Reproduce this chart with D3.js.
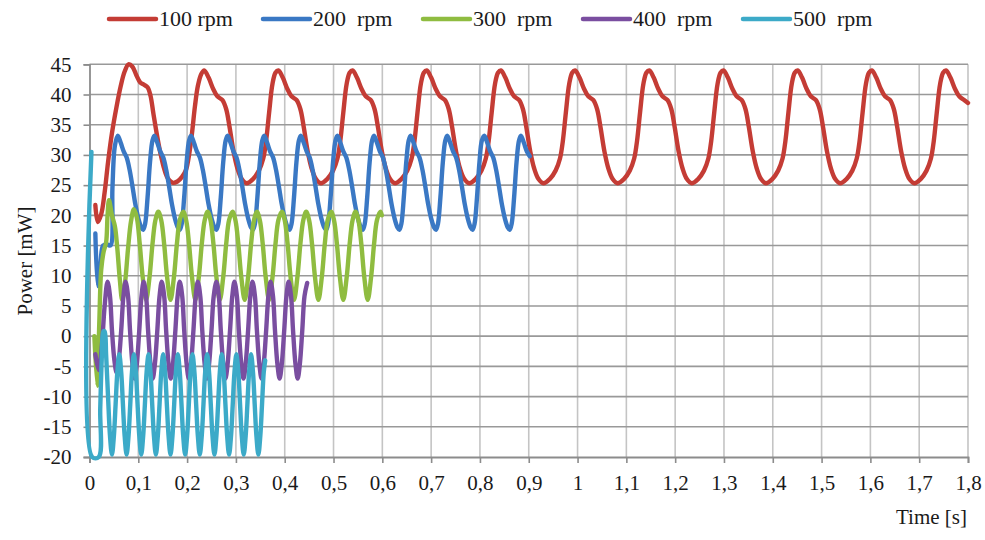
<!DOCTYPE html>
<html><head><meta charset="utf-8">
<script src="https://cdn.jsdelivr.net/npm/d3@7"></script>
<style>
body{margin:0;background:#fff;}
svg{display:block;font-family:"Liberation Serif","Times New Roman",serif;}
</style>
</head><body><svg id="chart" width="985" height="540"></svg>
<script>
// ---------------- DATA ----------------
const seriesNames = ["100 rpm", "200  rpm", "300  rpm", "400  rpm", "500  rpm"];
const seriesColors = ["#c43c35", "#3a78c4", "#8fbc40", "#7a4ea0", "#3caac8"];
const xTickValues = [0,0.1,0.2,0.3,0.4,0.5,0.6,0.7,0.8,0.9,1,1.1,1.2,1.3,1.4,1.5,1.6,1.7,1.8];
const xTickLabels = ["0","0,1","0,2","0,3","0,4","0,5","0,6","0,7","0,8","0,9","1","1,1","1,2","1,3","1,4","1,5","1,6","1,7","1,8"];
const yTickValues = [-20,-15,-10,-5,0,5,10,15,20,25,30,35,40,45];
const yTickLabels = ["-20","-15","-10","-5","0","5","10","15","20","25","30","35","40","45"];
const xTitle = "Time [s]";
const yTitle = "Power [mW]";

// [time s, power mW]
const power100 = [
[0.012,21.7],[0.017,18.9],[0.024,20.2],[0.031,23.8],[0.038,28.8],[0.046,33.6],[0.055,37.8],[0.064,41.4],[0.072,43.8],[0.080,45.0],[0.088,44.6],[0.096,43.2],[0.104,42.0],[0.112,41.6],[0.119,41.2],[0.125,39.8],[0.131,36.8],[0.138,33.4],[0.145,30.4],[0.152,28.0],[0.160,26.2],[0.170,25.4],[0.180,25.6],[0.190,26.4],[0.198,27.6],[0.204,30.0],[0.210,33.6],[0.216,38.0],[0.222,41.4],[0.229,43.4],
[0.235,44.0],[0.244,42.8],[0.253,41.0],[0.262,39.7],[0.272,39.1],[0.280,37.6],[0.287,34.6],[0.295,30.6],[0.303,27.8],[0.312,26.0],[0.322,25.3],[0.335,26.0],[0.347,27.4],[0.356,29.4],[0.362,32.4],[0.368,37.0],[0.375,41.8],[0.381,43.6],
[0.387,44.0],[0.396,42.8],[0.405,41.0],[0.414,39.7],[0.424,39.1],[0.432,37.6],[0.439,34.6],[0.447,30.6],[0.455,27.8],[0.464,26.0],[0.474,25.3],[0.487,26.0],[0.499,27.4],[0.508,29.4],[0.514,32.4],[0.520,37.0],[0.527,41.8],[0.533,43.6],
[0.539,44.0],[0.548,42.8],[0.557,41.0],[0.566,39.7],[0.576,39.1],[0.584,37.6],[0.591,34.6],[0.599,30.6],[0.607,27.8],[0.616,26.0],[0.626,25.3],[0.639,26.0],[0.651,27.4],[0.660,29.4],[0.666,32.4],[0.672,37.0],[0.679,41.8],[0.685,43.6],
[0.691,44.0],[0.700,42.8],[0.709,41.0],[0.718,39.7],[0.728,39.1],[0.736,37.6],[0.743,34.6],[0.751,30.6],[0.759,27.8],[0.768,26.0],[0.778,25.3],[0.791,26.0],[0.803,27.4],[0.812,29.4],[0.818,32.4],[0.824,37.0],[0.831,41.8],[0.837,43.6],
[0.843,44.0],[0.852,42.8],[0.861,41.0],[0.870,39.7],[0.880,39.1],[0.888,37.6],[0.895,34.6],[0.903,30.6],[0.911,27.8],[0.920,26.0],[0.930,25.3],[0.943,26.0],[0.955,27.4],[0.964,29.4],[0.970,32.4],[0.976,37.0],[0.983,41.8],[0.989,43.6],
[0.995,44.0],[1.004,42.8],[1.013,41.0],[1.022,39.7],[1.032,39.1],[1.040,37.6],[1.047,34.6],[1.055,30.6],[1.063,27.8],[1.072,26.0],[1.082,25.3],[1.095,26.0],[1.107,27.4],[1.116,29.4],[1.122,32.4],[1.128,37.0],[1.135,41.8],[1.141,43.6],
[1.147,44.0],[1.156,42.8],[1.165,41.0],[1.174,39.7],[1.184,39.1],[1.192,37.6],[1.199,34.6],[1.207,30.6],[1.215,27.8],[1.224,26.0],[1.234,25.3],[1.247,26.0],[1.259,27.4],[1.268,29.4],[1.274,32.4],[1.280,37.0],[1.287,41.8],[1.293,43.6],
[1.299,44.0],[1.308,42.8],[1.317,41.0],[1.326,39.7],[1.336,39.1],[1.344,37.6],[1.351,34.6],[1.359,30.6],[1.367,27.8],[1.376,26.0],[1.386,25.3],[1.399,26.0],[1.411,27.4],[1.420,29.4],[1.426,32.4],[1.432,37.0],[1.439,41.8],[1.445,43.6],
[1.451,44.0],[1.460,42.8],[1.469,41.0],[1.478,39.7],[1.488,39.1],[1.496,37.6],[1.503,34.6],[1.511,30.6],[1.519,27.8],[1.528,26.0],[1.538,25.3],[1.551,26.0],[1.563,27.4],[1.572,29.4],[1.578,32.4],[1.584,37.0],[1.591,41.8],[1.597,43.6],
[1.603,44.0],[1.612,42.8],[1.621,41.0],[1.630,39.7],[1.640,39.1],[1.648,37.6],[1.655,34.6],[1.663,30.6],[1.671,27.8],[1.680,26.0],[1.690,25.3],[1.703,26.0],[1.715,27.4],[1.724,29.4],[1.730,32.4],[1.736,37.0],[1.743,41.8],[1.749,43.6],
[1.755,44.0],[1.764,42.8],[1.773,41.0],[1.782,39.7],[1.792,39.1],[1.800,38.6]
];

const power200 = [
[0.012,17.0],[0.017,8.3],[0.022,11.5],[0.028,15.0],[0.036,15.2],[0.043,15.0],[0.047,24.5],[0.052,31.5],
[0.058,33.2],[0.064,32.0],[0.070,30.6],[0.076,29.6],[0.082,27.6],[0.088,24.8],[0.094,21.8],[0.100,19.5],[0.106,18.0],[0.110,17.6],[0.114,18.6],[0.119,23.0],[0.124,28.8],[0.129,32.4],
[0.133,33.2],[0.139,32.0],[0.145,30.6],[0.151,29.6],[0.157,27.6],[0.163,24.8],[0.169,21.8],[0.175,19.5],[0.181,18.0],[0.185,17.6],[0.189,18.6],[0.194,23.0],[0.199,28.8],[0.204,32.4],
[0.208,33.2],[0.214,32.0],[0.220,30.6],[0.226,29.6],[0.232,27.6],[0.238,24.8],[0.244,21.8],[0.250,19.5],[0.256,18.0],[0.260,17.6],[0.264,18.6],[0.269,23.0],[0.274,28.8],[0.279,32.4],
[0.283,33.2],[0.289,32.0],[0.295,30.6],[0.301,29.6],[0.307,27.6],[0.313,24.8],[0.319,21.8],[0.325,19.5],[0.331,18.0],[0.335,17.6],[0.339,18.6],[0.344,23.0],[0.349,28.8],[0.354,32.4],
[0.358,33.2],[0.364,32.0],[0.370,30.6],[0.376,29.6],[0.382,27.6],[0.388,24.8],[0.394,21.8],[0.400,19.5],[0.406,18.0],[0.410,17.6],[0.414,18.6],[0.419,23.0],[0.424,28.8],[0.429,32.4],
[0.433,33.2],[0.439,32.0],[0.445,30.6],[0.451,29.6],[0.457,27.6],[0.463,24.8],[0.469,21.8],[0.475,19.5],[0.481,18.0],[0.485,17.6],[0.489,18.6],[0.494,23.0],[0.499,28.8],[0.504,32.4],
[0.508,33.2],[0.514,32.0],[0.520,30.6],[0.526,29.6],[0.532,27.6],[0.538,24.8],[0.544,21.8],[0.550,19.5],[0.556,18.0],[0.560,17.6],[0.564,18.6],[0.569,23.0],[0.574,28.8],[0.579,32.4],
[0.583,33.2],[0.589,32.0],[0.595,30.6],[0.601,29.6],[0.607,27.6],[0.613,24.8],[0.619,21.8],[0.625,19.5],[0.631,18.0],[0.635,17.6],[0.639,18.6],[0.644,23.0],[0.649,28.8],[0.654,32.4],
[0.658,33.2],[0.664,32.0],[0.670,30.6],[0.676,29.6],[0.682,27.6],[0.688,24.8],[0.694,21.8],[0.700,19.5],[0.706,18.0],[0.710,17.6],[0.714,18.6],[0.719,23.0],[0.724,28.8],[0.729,32.4],
[0.733,33.2],[0.739,32.0],[0.745,30.6],[0.751,29.6],[0.757,27.6],[0.763,24.8],[0.769,21.8],[0.775,19.5],[0.781,18.0],[0.785,17.6],[0.789,18.6],[0.794,23.0],[0.799,28.8],[0.804,32.4],
[0.809,33.2],[0.815,32.0],[0.821,30.6],[0.827,29.6],[0.833,27.6],[0.839,24.8],[0.845,21.8],[0.851,19.5],[0.857,18.0],[0.861,17.6],[0.865,18.6],[0.870,23.0],[0.875,28.8],[0.880,32.4],
[0.884,33.2],[0.890,32.0],[0.896,30.6],[0.902,29.8]
];

const power300 = [
[0.010,0.0],[0.016,-8.2],[0.020,2.0],[0.024,11.0],[0.029,14.0],[0.034,15.5],[0.037,20.0],
[0.040,22.5],[0.046,20.0],[0.052,18.2],[0.057,14.5],[0.062,9.5],[0.067,6.0],[0.073,9.0],[0.079,14.5],[0.085,19.0],
[0.091,21.0],[0.097,19.6],[0.103,15.2],[0.109,9.8],[0.116,6.0],[0.123,9.8],[0.129,15.2],[0.135,19.2],
[0.141,20.6],[0.147,19.2],[0.153,15.2],[0.159,9.8],[0.166,6.0],[0.173,9.8],[0.179,15.2],[0.185,19.2],
[0.192,20.6],[0.198,19.2],[0.204,15.2],[0.210,9.8],[0.217,6.0],[0.224,9.8],[0.230,15.2],[0.236,19.2],
[0.242,20.6],[0.248,19.2],[0.254,15.2],[0.260,9.8],[0.267,6.0],[0.274,9.8],[0.280,15.2],[0.286,19.2],
[0.293,20.6],[0.299,19.2],[0.305,15.2],[0.311,9.8],[0.318,6.0],[0.325,9.8],[0.331,15.2],[0.337,19.2],
[0.343,20.6],[0.349,19.2],[0.355,15.2],[0.361,9.8],[0.368,6.0],[0.375,9.8],[0.381,15.2],[0.387,19.2],
[0.394,20.6],[0.400,19.2],[0.406,15.2],[0.412,9.8],[0.419,6.0],[0.426,9.8],[0.432,15.2],[0.438,19.2],
[0.444,20.6],[0.450,19.2],[0.456,15.2],[0.462,9.8],[0.469,6.0],[0.476,9.8],[0.482,15.2],[0.488,19.2],
[0.495,20.6],[0.501,19.2],[0.507,15.2],[0.513,9.8],[0.520,6.0],[0.527,9.8],[0.533,15.2],[0.539,19.2],
[0.545,20.6],[0.551,19.2],[0.557,15.2],[0.563,9.8],[0.570,6.0],[0.577,9.8],[0.583,15.2],[0.589,19.2],
[0.596,20.6],[0.599,20.0]
];

const power400 = [
[0.012,-3.0],[0.019,-5.6],[0.025,-2.0],[0.031,5.0],
[0.037,9.0],[0.042,6.6],[0.046,1.0],[0.051,-4.0],[0.0555,-6.0],[0.060,-4.0],[0.065,1.0],[0.0695,6.6],
[0.074,9.0],[0.079,6.6],[0.083,1.0],[0.088,-4.6],[0.0925,-7.0],[0.097,-4.6],[0.102,1.0],[0.1065,6.6],
[0.111,9.0],[0.116,6.6],[0.120,1.0],[0.125,-4.6],[0.1295,-7.0],[0.134,-4.6],[0.139,1.0],[0.1435,6.6],
[0.148,9.0],[0.153,6.6],[0.157,1.0],[0.162,-4.6],[0.1665,-7.0],[0.171,-4.6],[0.176,1.0],[0.1805,6.6],
[0.185,9.0],[0.190,6.6],[0.194,1.0],[0.199,-4.6],[0.2035,-7.0],[0.208,-4.6],[0.213,1.0],[0.2175,6.6],
[0.222,9.0],[0.227,6.6],[0.231,1.0],[0.236,-4.6],[0.2405,-7.0],[0.245,-4.6],[0.250,1.0],[0.2545,6.6],
[0.260,9.0],[0.265,6.6],[0.269,1.0],[0.274,-4.6],[0.2785,-7.0],[0.283,-4.6],[0.288,1.0],[0.2925,6.6],
[0.297,9.0],[0.302,6.6],[0.306,1.0],[0.311,-4.6],[0.3155,-7.0],[0.320,-4.6],[0.325,1.0],[0.3295,6.6],
[0.334,9.0],[0.339,6.6],[0.343,1.0],[0.348,-4.6],[0.3525,-7.0],[0.357,-4.6],[0.362,1.0],[0.3665,6.6],
[0.371,9.0],[0.376,6.6],[0.380,1.0],[0.385,-4.6],[0.3895,-7.0],[0.394,-4.6],[0.399,1.0],[0.4035,6.6],
[0.408,9.0],[0.413,6.6],[0.417,1.0],[0.422,-4.6],[0.4265,-7.0],[0.431,-4.6],[0.436,1.0],[0.4405,6.6],
[0.446,8.8]
];

const power500 = [
[0.004,30.5],[0.0055,-20.0],[0.019,-20.0],[0.022,-12.0],[0.025,-4.0],[0.0285,0.8],[0.031,0.8],[0.034,-3.0],[0.038,-10.0],[0.042,-16.5],
[0.046,-19.6],[0.050,-16.5],[0.0535,-11.3],[0.057,-6.0],[0.061,-3.0],[0.065,-6.0],[0.0685,-11.3],[0.072,-16.5],
[0.076,-19.6],[0.080,-16.5],[0.0835,-11.3],[0.087,-6.0],[0.091,-3.0],[0.095,-6.0],[0.0985,-11.3],[0.102,-16.5],
[0.106,-19.6],[0.110,-16.5],[0.1135,-11.3],[0.117,-6.0],[0.121,-3.0],[0.125,-6.0],[0.1285,-11.3],[0.132,-16.5],
[0.136,-19.6],[0.140,-16.5],[0.1435,-11.3],[0.147,-6.0],[0.151,-3.0],[0.155,-6.0],[0.1585,-11.3],[0.162,-16.5],
[0.166,-19.6],[0.170,-16.5],[0.1735,-11.3],[0.177,-6.0],[0.181,-3.0],[0.185,-6.0],[0.1885,-11.3],[0.192,-16.5],
[0.196,-19.6],[0.200,-16.5],[0.2035,-11.3],[0.207,-6.0],[0.211,-3.0],[0.215,-6.0],[0.2185,-11.3],[0.222,-16.5],
[0.226,-19.6],[0.230,-16.5],[0.2335,-11.3],[0.237,-6.0],[0.241,-3.0],[0.245,-6.0],[0.2485,-11.3],[0.252,-16.5],
[0.256,-19.6],[0.260,-16.5],[0.2635,-11.3],[0.267,-6.0],[0.271,-3.0],[0.275,-6.0],[0.2785,-11.3],[0.282,-16.5],
[0.286,-19.6],[0.290,-16.5],[0.2935,-11.3],[0.297,-6.0],[0.301,-3.0],[0.305,-6.0],[0.3085,-11.3],[0.312,-16.5],
[0.316,-19.6],[0.320,-16.5],[0.3235,-11.3],[0.327,-6.0],[0.331,-3.0],[0.335,-6.0],[0.3385,-11.3],[0.342,-16.5],
[0.346,-19.6],[0.350,-16.5],[0.3535,-11.3],[0.357,-6.0],[0.360,-4.0]
];

const seriesData = [power100, power200, power300, power400, power500];

// ---------------- LAYOUT ----------------
const W = 985, H = 540;
const plot = {left: 89.5, right: 968, top: 64.3, bottom: 457};
const tickFont = 21;

const svg = d3.select("#chart");
svg.append("rect").attr("width", W).attr("height", H).attr("fill", "#fff");

const x = d3.scaleLinear().domain([0, 1.8]).range([plot.left, plot.right]);
const y = d3.scaleLinear().domain([-20, 45]).range([plot.bottom, plot.top]);

// gridlines
const grid = svg.append("g");
grid.selectAll("line.v").data(xTickValues.filter(d => d > 0)).join("line")
  .attr("class", "v")
  .attr("x1", d => x(d)).attr("x2", d => x(d))
  .attr("y1", plot.top).attr("y2", plot.bottom)
  .attr("stroke", "#c4c4c4").attr("stroke-width", 1.6);
grid.selectAll("line.h").data(yTickValues.filter(d => d > -20)).join("line")
  .attr("class", "h")
  .attr("x1", plot.left).attr("x2", plot.right)
  .attr("y1", d => y(d)).attr("y2", d => y(d))
  .attr("stroke", "#999999").attr("stroke-width", 1.6);

// axes
const xAxis = svg.append("g").attr("transform", `translate(0,${plot.bottom})`)
  .call(d3.axisBottom(x).tickValues(xTickValues).tickFormat((d, i) => xTickLabels[i]).tickSize(6).tickPadding(12));
const yAxis = svg.append("g").attr("transform", `translate(${plot.left},0)`)
  .call(d3.axisLeft(y).tickValues(yTickValues).tickFormat((d, i) => yTickLabels[i]).tickSize(6).tickPadding(12));
[xAxis, yAxis].forEach(g => {
  g.select(".domain").attr("stroke", "#8c8c8c").attr("stroke-width", 1.8);
  g.selectAll(".tick line").attr("stroke", "#8c8c8c").attr("stroke-width", 1.6);
  g.selectAll(".tick text").attr("fill", "#1a1a1a")
    .style("font-family", '"Liberation Serif","Times New Roman",serif')
    .style("font-size", tickFont + "px");
});

// series
const line = d3.line()
  .x(d => x(d[0])).y(d => y(d[1]))
  .curve(d3.curveCatmullRom.alpha(0.5));
svg.append("g").selectAll("path").data(seriesData).join("path")
  .attr("d", d => line(d))
  .attr("fill", "none")
  .attr("stroke", (d, i) => seriesColors[i])
  .attr("stroke-width", 4.4)
  .attr("stroke-linejoin", "round")
  .attr("stroke-linecap", "round");

// axis titles
svg.append("text")
  .attr("transform", "translate(32,261) rotate(-90)")
  .attr("text-anchor", "middle")
  .attr("fill", "#1a1a1a")
  .style("font-size", "21px")
  .text(yTitle);
svg.append("text")
  .attr("x", 967).attr("y", 524)
  .attr("text-anchor", "end")
  .attr("fill", "#1a1a1a")
  .style("font-size", "21px")
  .text(xTitle);

// legend
const legendX = [109, 263, 423, 583, 743];
const legend = svg.append("g");
seriesNames.forEach((name, i) => {
  legend.append("line")
    .attr("x1", legendX[i]).attr("x2", legendX[i] + 47)
    .attr("y1", 19).attr("y2", 19)
    .attr("stroke", seriesColors[i]).attr("stroke-width", 4.5)
    .attr("stroke-linecap", "round");
  legend.append("text")
    .attr("x", legendX[i] + 50).attr("y", 26)
    .attr("fill", "#1a1a1a")
    .style("font-size", "22px")
    .style("white-space", "pre")
    .attr("xml:space", "preserve")
    .text(name);
});
</script>
</body></html>
